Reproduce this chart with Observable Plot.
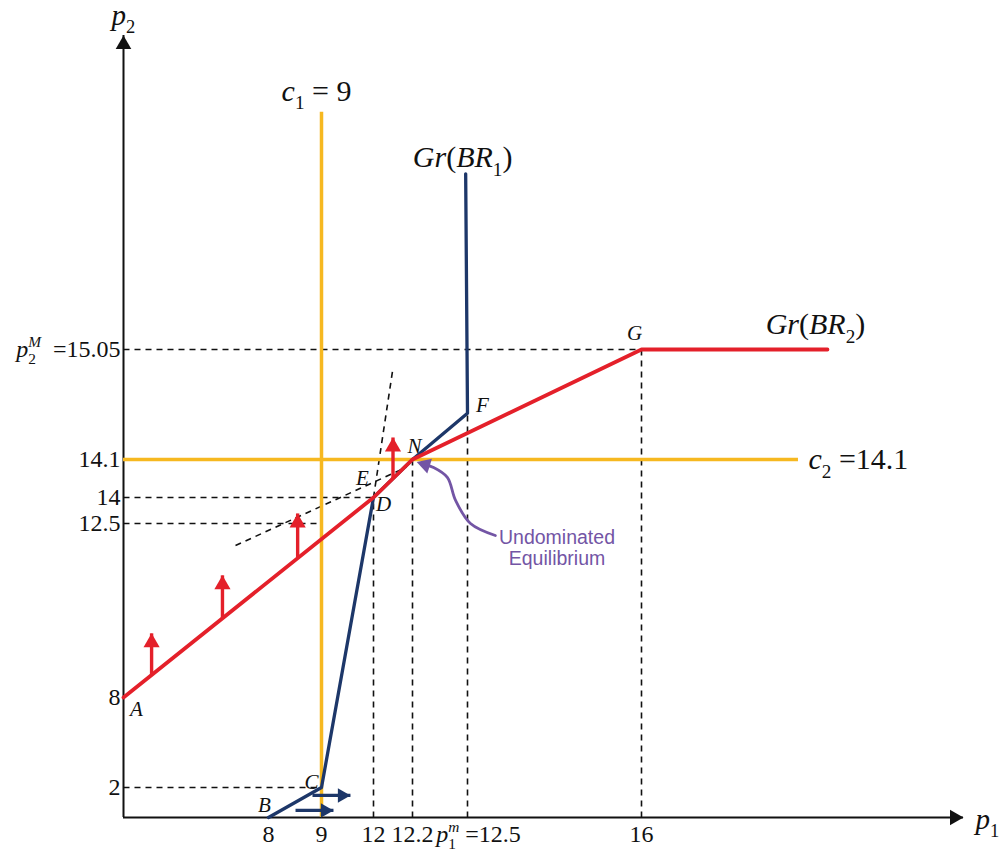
<!DOCTYPE html>
<html>
<head>
<meta charset="utf-8">
<script src="https://cdn.jsdelivr.net/npm/d3@7"></script>
<script src="https://cdn.jsdelivr.net/npm/@observablehq/plot@0.6"></script>
<style>
  html, body { margin: 0; padding: 0; background: #fff; }
  #chart svg { display: block; }
</style>
</head>
<body>
<div id="chart"></div>
<script>
// ---------------- DATA (diagram is not to scale) ----------------
const xTickValues = [8, 9, 12, 12.2, 12.5, 16];
const xTickLabels = ["8", "9", "12", "12.2", "*p*_{1}^{m} =12.5", "16"];
const yTickValues = [2, 8, 12.5, 14, 14.1, 15.05];
const yTickLabels = ["2", "8", "12.5", "14", "14.1", "*p*_{2}^{M}  =15.05"];

// best-response graphs
const br1P1 = [8, 9, 12, 12.2, 12.5, 12.49];
const br1P2 = [0, 2, 14, 14.1, 14.5, 17.82];
const br2P1 = [0, 12, 12.2, 16, 18.31];
const br2P2 = [8, 14, 14.1, 15.05, 15.05];

// capacity constraints
const c1Value = 9, c1Top = 18.79;
const c2Value = 14.1, c2End = 17.95;

// dashed guide segments
const guideX1 = [0, 0, 0, 0, 12, 12.2, 12.5, 16, 6.18, 12];
const guideY1 = [15.05, 14, 12.5, 2, 0, 0, 0, 0, 11.93, 14];
const guideX2 = [16, 12, 9, 9, 12, 12.2, 12.5, 16, 12.17, 12.1];
const guideY2 = [15.05, 14, 12.5, 2, 14, 14.1, 14.5, 15.05, 14.08, 14.89];

// labelled points
const pointNames = ["A", "B", "C", "D", "E", "N", "F", "G"];
const pointP1 = [0, 8, 9, 12, 12.01, 12.2, 12.5, 16];
const pointP2 = [8, 0, 2, 14, 14.04, 14.1, 14.5, 15.05];

// red upward arrows on Gr(BR2)
const upArrowP1 = [1.55, 5.46, 8.55, 12.10];
const upArrowBase = [8.58, 10.04, 11.62, 14.05];
const upArrowTip = [9.66, 11.16, 13.08, 14.29];

// blue rightward arrows near B-C
const rightArrowP2 = [0.47, 1.47];
const rightArrowBase = [8.51, 8.83];
const rightArrowTip = [9.69, 10.67];

// purple annotation curve (from text to N)
const curveP1 = [13.06, 12.56, 12.435, 12.39, 12.315, 12.27];
const curveP2 = [12.19, 12.5, 13.83, 14.053, 14.079, 14.086];
const noteText = "Undominated\nEquilibrium";
const noteP1 = 14.3, noteP2 = 11.88;

// ---------------- build tables ----------------
const tbl = (xs, ys) => xs.map((x, i) => ({x, y: ys[i]}));
const br1 = tbl(br1P1, br1P2);
const br2 = tbl(br2P1, br2P2);
const guides = guideX1.map((x1, i) => ({x1, y1: guideY1[i], x2: guideX2[i], y2: guideY2[i]}));
const points = pointNames.map((name, i) => ({name, x: pointP1[i], y: pointP2[i]}));
const upArrows = upArrowP1.map((x, i) => ({x, y1: upArrowBase[i], y2: upArrowTip[i]}));
const rightArrows = rightArrowP2.map((y, i) => ({y, x1: rightArrowBase[i], x2: rightArrowTip[i]}));
const curve = tbl(curveP1, curveP2);

// ---------------- styles ----------------
const RED = "#e4202a", BLUE = "#1d3769", YELLOW = "#f6b820", PURPLE = "#7355a5";
const apex = r => 2 * Math.sqrt(r * r * Math.PI / (3 * Math.sqrt(3)));

// piecewise (not-to-scale) axes
const xDomain = [0, 8, 9, 12, 12.2, 12.5, 16, 20];
const yDomain = [0, 2, 8, 12.5, 14, 14.1, 15.05, 20];

const labelOffsets = {
  A: [13, 12], B: [-4, -12], C: [-10, -5], D: [10, 7], E: [-13, -4],
  N: [2, -13], F: [15, -8], G: [-7, -16]
};

const TICK_FS = 24, BIG_FS = 30, PT_FS = 21;

const marks = [
  // dashed guides
  Plot.link(guides, {x1: "x1", y1: "y1", x2: "x2", y2: "y2", stroke: "#111", strokeWidth: 1.6, strokeDasharray: "6,5"}),
  // axes
  Plot.ruleX([0], {y1: 0, y2: 20, stroke: "#111", strokeWidth: 2}),
  Plot.ruleY([0], {x1: 0, x2: 20, stroke: "#111", strokeWidth: 2}),
  Plot.dot([{x: 0, y: 20}], {x: "x", y: "y", symbol: "triangle", r: 5.8, fill: "#111", stroke: "none", dy: apex(5.8)}),
  Plot.dot([{x: 20, y: 0}], {x: "x", y: "y", symbol: "triangle", r: 5.8, fill: "#111", stroke: "none", rotate: 90, dx: -apex(5.8)}),
  // capacity lines
  Plot.ruleX([c1Value], {y1: 0, y2: c1Top, stroke: YELLOW, strokeWidth: 3.5}),
  Plot.ruleY([c2Value], {x1: 0, x2: c2End, stroke: YELLOW, strokeWidth: 3.5}),
  // BR1
  Plot.line(br1, {x: "x", y: "y", stroke: BLUE, strokeWidth: 3.3, strokeLinejoin: "round"}),
  // blue arrows
  Plot.link(rightArrows, {x1: "x1", x2: "x2", y1: "y", y2: "y", stroke: BLUE, strokeWidth: 3.2}),
  Plot.dot(rightArrows, {x: "x2", y: "y", symbol: "triangle", r: 5.4, fill: BLUE, stroke: "none", rotate: 90, dx: -apex(5.4)}),
  // BR2
  Plot.line(br2, {x: "x", y: "y", stroke: RED, strokeWidth: 3.8, strokeLinejoin: "round"}),
  // red arrows
  Plot.link(upArrows, {x1: "x", x2: "x", y1: "y1", y2: "y2", stroke: RED, strokeWidth: 3.4}),
  Plot.dot(upArrows, {x: "x", y: "y2", symbol: "triangle", r: 6, fill: RED, stroke: "none", dy: apex(6)}),
  // annotation curve
  Plot.line(curve, {x: "x", y: "y", curve: "catmull-rom", stroke: PURPLE, strokeWidth: 2.8}),
  Plot.dot([curve[curve.length - 1]], {x: "x", y: "y", symbol: "triangle", r: 5.8, fill: PURPLE, stroke: "none", rotate: -72.6}),
  Plot.text([noteText], {x: noteP1, y: noteP2, text: d => d, fill: PURPLE, fontSize: 19.5, lineHeight: 1.1,
    fontFamily: "'Liberation Sans', Arial, sans-serif", textAnchor: "middle", lineAnchor: "middle"}),
  // tick labels
  Plot.text(xTickValues.filter(v => v !== 12.5), {
    x: d => d, y: 0, text: d => xTickLabels[xTickValues.indexOf(d)], dy: 17, fontSize: TICK_FS, lineAnchor: "middle", fill: "#111"}),
  Plot.text([12.5], {x: d => d, y: 0, text: d => xTickLabels[xTickValues.indexOf(d)], dy: 17, dx: 11, fontSize: TICK_FS, lineAnchor: "middle", fill: "#111"}),
  Plot.text(yTickValues, {x: 0, y: d => d, text: d => yTickLabels[yTickValues.indexOf(d)], dx: -3, fontSize: TICK_FS,
    textAnchor: "end", lineAnchor: "middle", fill: "#111"}),
  // axis titles
  Plot.text(["*p*_{2}"], {x: 0, y: 20, text: d => d, dy: -20, fontSize: 29, lineAnchor: "middle", fill: "#111"}),
  Plot.text(["*p*_{1}"], {x: 20, y: 0, text: d => d, dx: 12, dy: 2, fontSize: 29, textAnchor: "start", lineAnchor: "middle", fill: "#111"}),
  // constraint / graph labels
  Plot.text(["*c*_{1} = 9"], {x: c1Value, y: c1Top, text: d => d, dy: -21, dx: -5, fontSize: BIG_FS, lineAnchor: "middle", fill: "#111"}),
  Plot.text(["*c*_{2} =14.1"], {x: c2End, y: c2Value, text: d => d, dx: 10, fontSize: BIG_FS, textAnchor: "start", lineAnchor: "middle", fill: "#111"}),
  Plot.text(["*Gr*(*BR*_{1})"], {x: br1P1[br1P1.length - 1], y: br1P2[br1P2.length - 1], text: d => d, dy: -16, dx: -3, fontSize: BIG_FS, lineAnchor: "middle", fill: "#111"}),
  Plot.text(["*Gr*(*BR*_{2})"], {x: br2P1[br2P1.length - 1], y: br2P2[br2P2.length - 1], text: d => d, dy: -25, dx: -12, fontSize: BIG_FS, lineAnchor: "middle", fill: "#111"})
];
// point labels
for (const p of points) {
  const [dx, dy] = labelOffsets[p.name];
  marks.push(Plot.text([p], {x: "x", y: "y", text: "name", dx, dy, fontSize: PT_FS, fontStyle: "italic", lineAnchor: "middle", fill: "#111"}));
}

const svg = Plot.plot({
  width: 1001,
  height: 852,
  margin: 0,
  x: {type: "linear", domain: xDomain, range: [123, 268, 321, 373, 412, 467, 641, 963], axis: null},
  y: {type: "linear", domain: yDomain, range: [817, 787, 697, 523, 497, 459, 349, 35], axis: null},
  style: {fontFamily: "'Liberation Serif', 'Times New Roman', serif", background: "#fff", overflow: "visible"},
  marks
});
document.getElementById("chart").appendChild(svg);

// ---------------- rich text: *italic*, _{sub}, ^{sup}, _{sub}^{sup} ----------------
function richText(root) {
  const re = /\*([^*]+)\*|_\{([^}]*)\}\^\{([^}]*)\}|_\{([^}]*)\}|\^\{([^}]*)\}|([^*_^]+)/g;
  d3.select(root).selectAll("text").each(function () {
    const s = this.textContent;
    if (!/[*_^]/.test(s)) return;
    const fs = parseFloat(getComputedStyle(this).fontSize) || 20;
    const el = d3.select(this);
    this.textContent = "";
    let cur = 0;
    const add = (txt, {italic = false, scale = 1, shift = 0, dx = 0} = {}) => {
      const t = el.append("tspan").text(txt);
      if (italic) t.attr("font-style", "italic");
      if (scale !== 1) t.attr("font-size", fs * scale);
      if (shift !== cur) { t.attr("dy", shift - cur); cur = shift; }
      if (dx) t.attr("dx", dx);
      return t;
    };
    const SC = 0.64, SUB = 0.28 * fs, SUP = -0.42 * fs;
    let m;
    while ((m = re.exec(s)) !== null) {
      if (m[1] !== undefined) add(m[1], {italic: true, shift: 0});
      else if (m[2] !== undefined) {
        add(m[2], {scale: SC, shift: SUB});
        add(m[3], {italic: true, scale: SC, shift: SUP, dx: -0.5 * SC * fs * m[2].length});
      }
      else if (m[4] !== undefined) add(m[4], {scale: SC, shift: SUB});
      else if (m[5] !== undefined) add(m[5], {italic: true, scale: SC, shift: SUP});
      else if (m[6] !== undefined) add(m[6], {shift: 0, space: true});
    }
  });
  d3.select(root).selectAll("text").attr("xml:space", "preserve").style("white-space", "pre");
}
richText(svg);
</script>
</body>
</html>
